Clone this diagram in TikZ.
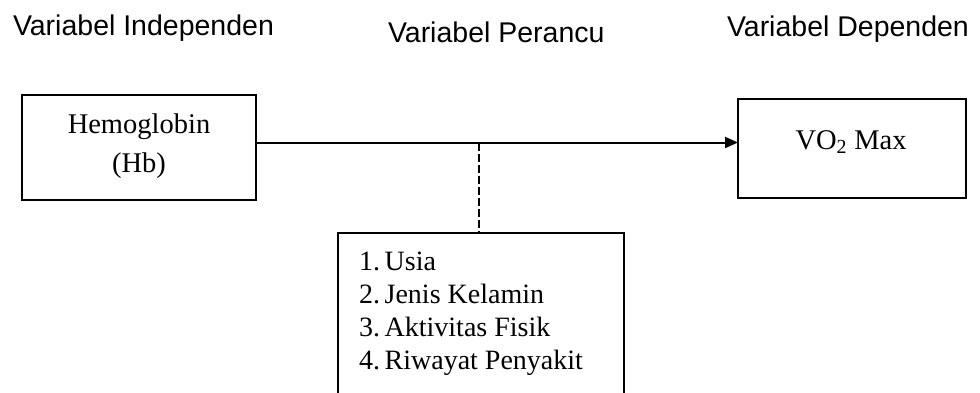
\documentclass[tikz,border=0pt]{standalone}
\usepackage{fontspec}
\setmainfont{Liberation Serif}
\newfontfamily\headfont{Liberation Sans}
\usetikzlibrary{arrows.meta}
\tikzset{
  every node/.style={inner sep=0pt, outer sep=0pt},
  head/.style={anchor=base west, font=\headfont\fontsize{28.5}{34}\selectfont},
  boxtext/.style={anchor=base, font=\fontsize{28.5}{34}\selectfont},
  listtext/.style={anchor=base west, font=\fontsize{28}{33}\selectfont},
  frame/.style={draw, line width=2pt, rectangle},
  link/.style={line width=2pt},
  dashlink/.style={line width=2pt, dash pattern=on 8pt off 3pt}
}
\begin{document}
\begin{tikzpicture}[x=1pt,y=1pt]
\useasboundingbox (0,0) rectangle (980,-392);
\clip (0,0) rectangle (980,-392);
% headers
\node[head] (hind) at (13,-35) {Variabel Independen};
\node[head] (hper) at (388,-42) {Variabel Perancu};
\node[head] (hdep) at (727,-36) {Variabel Dependen};
% boxes
\node[frame, minimum width=234pt, minimum height=105pt] (hb) at (139,-147.5) {};
\node[boxtext] (hb1) at (139,-133) {Hemoglobin};
\node[boxtext] (hb2) at (139,-172) {(Hb)};
\node[frame, minimum width=228pt, minimum height=99pt] (vo) at (852,-148.5) {};
\node[boxtext] (vot) at (851,-149) {VO\textsubscript{2} Max};
\node[frame, minimum width=286pt, minimum height=200pt] (conf) at (481,-333) {};
\node[listtext] (l1) at (359,-270) {1.\,Usia};
\node[listtext] (l2) at (359,-303) {2.\,Jenis Kelamin};
\node[listtext] (l3) at (359,-336) {3.\,Aktivitas Fisik};
\node[listtext] (l4) at (359,-369) {4.\,Riwayat Penyakit};
% connectors
\coordinate (ys) at (0,-142.5);
\coordinate (jn) at (479,-142.5);
\draw[link, -{Triangle[length=13pt,width=11pt]}] (hb.east |- ys) -- (vo.west |- ys);
\draw[dashlink] (jn) -- (jn |- conf.north);
\end{tikzpicture}
\end{document}
